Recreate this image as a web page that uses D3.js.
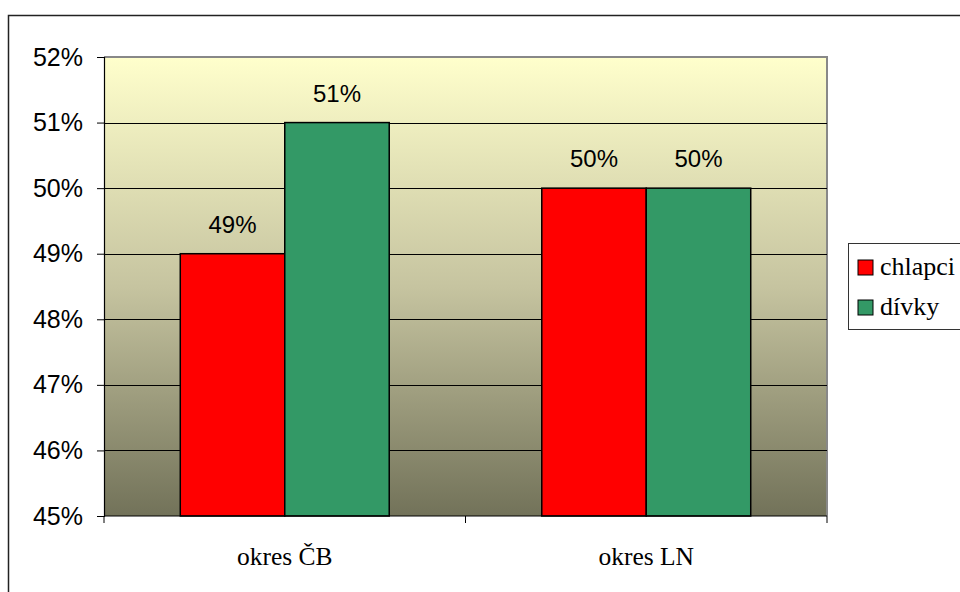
<!DOCTYPE html>
<html>
<head>
<meta charset="utf-8">
<script src="https://cdn.jsdelivr.net/npm/d3@7"></script>
<style>
  body { margin: 0; background: #fff; }
</style>
</head>
<body>
<div id="viz"></div>
<script>
const width = 960;
const height = 592;
const margin = {top: 57, right: 133, bottom: 76, left: 104};

// Data
const categories = ['okres ČB', 'okres LN'];
const seriesNames = ['chlapci', 'dívky'];
const chlapci = [49, 50];
const divky = [51, 50];
const yTicks = [45, 46, 47, 48, 49, 50, 51, 52];
const colors = ['#FF0000', '#339966'];

const svg = d3.select('#viz')
  .append('svg')
    .attr('width', width)
    .attr('height', height);

// Outer chart border
svg.append('rect')
  .attr('x', 8.5).attr('y', 15.5)
  .attr('width', width).attr('height', height)
  .attr('fill', 'none')
  .attr('stroke', '#222')
  .attr('stroke-width', 1.5);

const x0 = d3.scaleBand()
  .domain(categories)
  .range([margin.left, width - margin.right]);

const x1 = d3.scaleBand()
  .domain(seriesNames)
  .range([0, x0.bandwidth()])
  .paddingOuter(0.73)
  .paddingInner(0);

const y = d3.scaleLinear()
  .domain([45, 52])
  .range([height - margin.bottom, margin.top]);

// Gradient background
const defs = svg.append('defs');
const grad = defs.append('linearGradient')
  .attr('id', 'bg')
  .attr('x1', 0).attr('y1', 0).attr('x2', 0).attr('y2', 1);
grad.append('stop').attr('offset', '0%').attr('stop-color', '#FFFFCC');
grad.append('stop').attr('offset', '50%').attr('stop-color', '#C6C4A0');
grad.append('stop').attr('offset', '100%').attr('stop-color', '#727259');

svg.append('rect')
  .attr('x', margin.left).attr('y', margin.top)
  .attr('width', width - margin.left - margin.right)
  .attr('height', height - margin.top - margin.bottom)
  .attr('fill', 'url(#bg)');

// Plot area border (gray, top and right)
svg.append('path')
  .attr('d', `M${margin.left},${margin.top}H${width - margin.right}V${height - margin.bottom}`)
  .attr('fill', 'none')
  .attr('stroke', '#888')
  .attr('stroke-width', 2);

// Gridlines
svg.append('g')
  .selectAll('line')
  .data(yTicks.slice(1, -1))
  .join('line')
    .attr('x1', margin.left).attr('x2', width - margin.right)
    .attr('y1', d => Math.round(y(d)) + 0.5).attr('y2', d => Math.round(y(d)) + 0.5)
    .attr('stroke', '#000')
    .attr('stroke-width', 1);

// Bars
const rows = categories.map((c, i) => ({cat: c, values: [chlapci[i], divky[i]]}));
const groups = svg.append('g')
  .selectAll('g')
  .data(rows)
  .join('g')
    .attr('transform', d => `translate(${x0(d.cat)},0)`);

groups.selectAll('rect')
  .data(d => d.values.map((v, j) => ({name: seriesNames[j], v: v, j: j})))
  .join('rect')
    .attr('x', d => x1(d.name))
    .attr('y', d => y(d.v))
    .attr('width', x1.bandwidth())
    .attr('height', d => y(45) - y(d.v))
    .attr('fill', d => colors[d.j])
    .attr('stroke', '#000')
    .attr('stroke-width', 1.5);

groups.selectAll('text')
  .data(d => d.values.map((v, j) => ({name: seriesNames[j], v: v})))
  .join('text')
    .attr('x', d => x1(d.name) + x1.bandwidth() / 2)
    .attr('y', d => y(d.v) - 21)
    .attr('text-anchor', 'middle')
    .style('font-family', 'Liberation Sans, Arial, sans-serif')
    .style('font-size', '24px')
    .text(d => d.v + '%');

// Y axis
const yAxis = d3.axisLeft(y)
  .tickValues(yTicks)
  .tickSize(7)
  .tickPadding(14)
  .tickFormat(d => d + '%');
const yAxisGroup = svg.append('g')
  .attr('transform', `translate(${margin.left},0)`)
  .call(yAxis);
yAxisGroup.select('.domain').attr('stroke', '#000').attr('stroke-width', 1.2);
yAxisGroup.selectAll('text')
  .style('font-family', 'Liberation Sans, Arial, sans-serif')
  .style('font-size', '25px')
  .attr('fill', '#000');

// X axis
const xAxisGroup = svg.append('g')
  .attr('transform', `translate(0,${height - margin.bottom})`);
xAxisGroup.append('line')
  .attr('x1', margin.left).attr('x2', width - margin.right)
  .attr('stroke', '#000').attr('stroke-width', 1.2);
const xTickPos = [margin.left, ...categories.map(c => x0(c) + x0.bandwidth())];
xAxisGroup.selectAll('.xt')
  .data(xTickPos)
  .join('line')
    .attr('class', 'xt')
    .attr('x1', d => d).attr('x2', d => d)
    .attr('y1', 0).attr('y2', 7)
    .attr('stroke', '#000');
xAxisGroup.selectAll('text')
  .data(categories)
  .join('text')
    .attr('x', d => x0(d) + x0.bandwidth() / 2)
    .attr('y', 49)
    .attr('text-anchor', 'middle')
    .style('font-family', 'Liberation Serif, Times New Roman, serif')
    .style('font-size', '25.5px')
    .text(d => d);

// Legend
const legend = svg.append('g').attr('transform', 'translate(848,243)');
legend.append('rect')
  .attr('x', 0.5).attr('y', 0.5)
  .attr('width', 130).attr('height', 86)
  .attr('fill', '#fff')
  .attr('stroke', '#333');
const items = legend.selectAll('g.item')
  .data(seriesNames)
  .join('g')
    .attr('class', 'item')
    .attr('transform', (d, i) => `translate(10,${32 + i * 40})`);
items.append('rect')
  .attr('x', 0).attr('y', -15)
  .attr('width', 15).attr('height', 15)
  .attr('fill', (d, i) => colors[i])
  .attr('stroke', '#000');
items.append('text')
  .attr('x', 22).attr('y', 0)
  .style('font-family', 'Liberation Serif, Times New Roman, serif')
  .style('font-size', '26px')
  .text(d => d);
</script>
</body>
</html>
